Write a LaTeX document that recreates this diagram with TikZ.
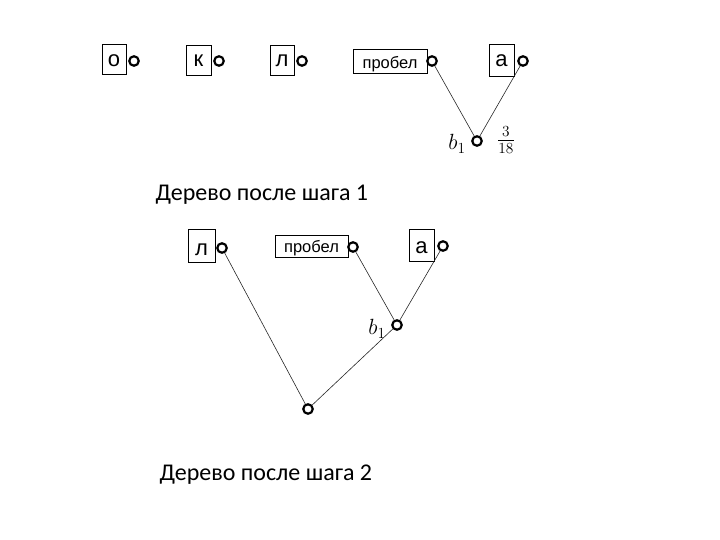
\documentclass[tikz,border=0pt]{standalone}
\usepackage{fix-cm}
\usepackage{fontspec}
\setmainfont{Liberation Sans}
\newfontfamily\capfont{Carlito}
\begin{document}
\begin{tikzpicture}[x=1pt,y=-1pt,
  frame/.style={draw, thin, inner sep=0pt},
  letter/.style={inner sep=0pt, anchor=base, font=\fontsize{22}{22}\selectfont},
  word/.style={inner sep=0pt, anchor=base, font=\fontsize{16.5}{16.5}\selectfont},
  knot/.style={circle, draw, line width=2.2pt, minimum size=9.5pt, inner sep=0pt},
  edge/.style={draw=black!85, line width=0.6pt},
  mathlbl/.style={font=\fontsize{22}{22}\selectfont},
  caption/.style={font=\capfont\fontsize{24}{24}\selectfont, anchor=west}]
\useasboundingbox (0,0) rectangle (720,540);
% top row
\node[frame, minimum width=24pt, minimum height=30pt] (o) at (114,59) {};
\node[letter] (ot) at (114,67) {о};
\node[knot] (oc) at (134,61) {};
\node[frame, minimum width=25pt, minimum height=30pt] (k) at (198.5,60) {};
\node[letter] (kt) at (198.5,67) {к};
\node[knot] (kc) at (219,61) {};
\node[frame, minimum width=24pt, minimum height=30pt] (l) at (282,60) {};
\node[letter] (lt) at (282,67) {л};
\node[knot] (lc) at (302,61) {};
\node[frame, minimum width=74pt, minimum height=24pt] (p) at (390,61) {};
\node[word] (pt) at (390,68.5) {пробел};
\node[knot] (pc) at (432,61) {};
\node[frame, minimum width=25pt, minimum height=32pt] (a) at (501.5,60) {};
\node[letter] (at) at (501.5,67) {а};
\node[knot] (ac) at (523,61) {};
\node[knot] (b1) at (477,141) {};
\node[mathlbl] (b1l) at (457,144) {$b_1$};
\node[mathlbl] (b1f) at (506,140) {$\frac{3}{18}$};
\draw[edge] (pc) -- (b1);
\draw[edge] (ac) -- (b1);
\node[caption] (cap1) at (152,195) {Дерево после шага 1};
% second tree
\node[frame, minimum width=27pt, minimum height=33pt] (l2) at (201.5,245.5) {};
\node[letter] (l2t) at (201.5,255) {л};
\node[knot] (l2c) at (222,248) {};
\node[frame, minimum width=73pt, minimum height=22pt] (p2) at (311.5,246) {};
\node[word] (p2t) at (311.5,252.5) {пробел};
\node[knot] (p2c) at (353,247) {};
\node[frame, minimum width=25pt, minimum height=32pt] (a2) at (421.5,245) {};
\node[letter] (a2t) at (421.5,253.5) {а};
\node[knot] (a2c) at (443,246) {};
\node[knot] (b12) at (397,325) {};
\node[mathlbl] (b12l) at (377,329) {$b_1$};
\node[knot] (r) at (308,409) {};
\draw[edge] (l2c) -- (r);
\draw[edge] (p2c) -- (b12);
\draw[edge] (a2c) -- (b12);
\draw[edge] (b12) -- (r);
\node[caption] (cap2) at (156,475) {Дерево после шага 2};
\end{tikzpicture}
\end{document}
